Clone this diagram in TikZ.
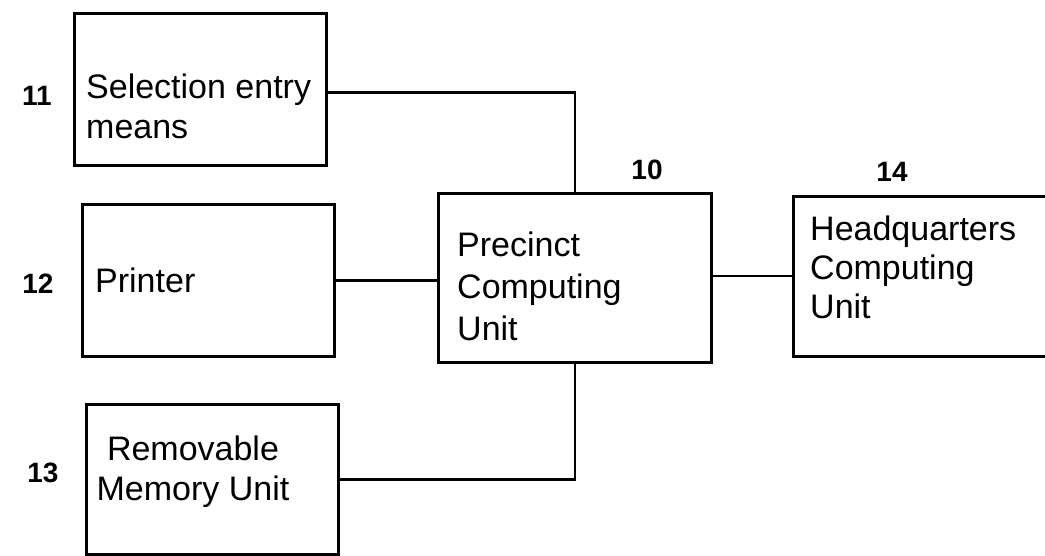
\documentclass[tikz,border=0pt]{standalone}
\usepackage{fontspec}
\setmainfont{Liberation Sans}
\tikzset{
  box/.style={draw, line width=2.8pt, anchor=north west, inner sep=0pt},
  txt/.style={font=\fontsize{34}{40}\selectfont, align=left, anchor=base west, inner sep=0pt},
  num/.style={font=\fontsize{28}{32}\selectfont\bfseries, anchor=base, inner sep=0pt},
  conn/.style={line width=2.8pt},
}
\begin{document}
\begin{tikzpicture}[x=1pt,y=-1pt]
\useasboundingbox (0,0) rectangle (1045,555);
\clip (0,0) rectangle (1045,555);
% boxes
\node[box, minimum width=252pt, minimum height=152pt] (b11) at (73,12) {};
\node[box, minimum width=252pt, minimum height=152pt] (b12) at (81,203) {};
\node[box, minimum width=252pt, minimum height=150pt] (b13) at (85,403) {};
\node[box, minimum width=273pt, minimum height=169pt] (b10) at (437,192) {};
\node[box, minimum width=260pt, minimum height=160pt] (b14) at (792,195) {};
% texts (base anchor = baseline of the last line)
\node[txt] (t11) at (86,138) {Selection entry\\means};
\node[txt] (t12) at (95,292) {Printer};
\node[txt, align=center, anchor=base] (t13) at (193,500) {Removable\\Memory Unit};
\node[txt, font=\fontsize{34}{42}\selectfont] (t10) at (457,340) {Precinct\\Computing\\Unit};
\node[txt, font=\fontsize{34}{39}\selectfont] (t14) at (810,318) {Headquarters\\Computing\\Unit};
% reference numbers
\node[num] (n11) at (37,105) {11};
\node[num] (n12) at (38,293) {12};
\node[num] (n13) at (43,482) {13};
\node[num] (n10) at (647,179) {10};
\node[num] (n14) at (892,181) {14};
% connectors
\draw[conn] ([yshift=-3pt]b11.east) -| (b10.north);
\draw[conn] (b12.east) -- (b12.east -| b10.west);
\draw[conn] (b13.east) -| (b10.south);
\draw[conn] ([yshift=2pt]b10.east) -- ([yshift=2pt]b10.east -| b14.west);
\end{tikzpicture}
\end{document}
